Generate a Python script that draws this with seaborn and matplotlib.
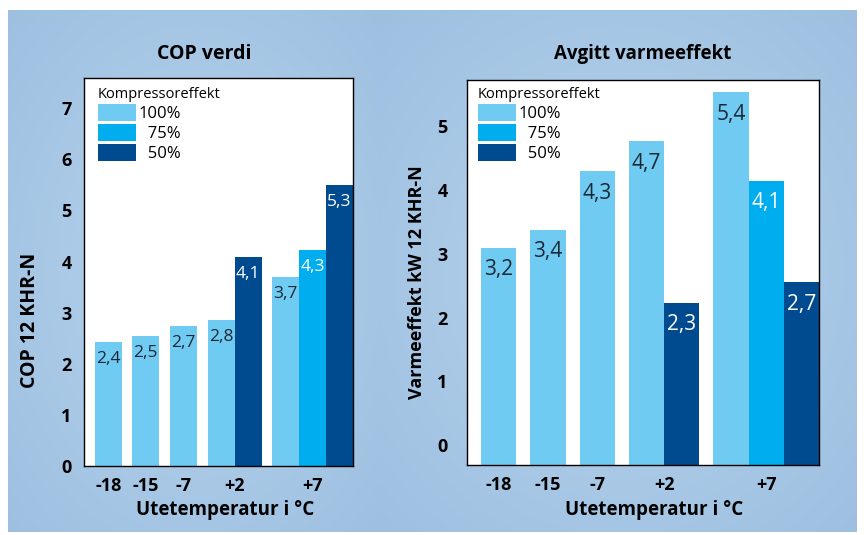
import numpy as np
import pandas as pd
import matplotlib
matplotlib.use("Agg")
import matplotlib.pyplot as plt
from matplotlib.patches import Patch
import seaborn as sns

# ---------------- data ----------------
temps = ['-18', '-15', '-7', '+2', '+7']
bar_temps = ['-18', '-15', '-7', '+2', '+2', '+7', '+7', '+7']
bar_series = ['100%', '100%', '100%', '100%', '50%', '100%', '75%', '50%']

cop_values = [2.43, 2.55, 2.73, 2.86, 4.08, 3.69, 4.22, 5.49]
cop_labels = ['2,4', '2,5', '2,7', '2,8', '4,1', '3,7', '4,3', '5,3']

heat_values = [3.09, 3.37, 4.29, 4.76, 2.23, 5.53, 4.14, 2.55]
heat_labels = ['3,2', '3,4', '4,3', '4,7', '2,3', '5,4', '4,1', '2,7']

series_order = ['100%', '75%', '50%']
legend_text = ['100%', '  75%', '  50%']
palette = {'100%': '#70cbf2', '75%': '#00adee', '50%': '#004a8f'}
text_color = {'100%': '#1c2733', '75%': 'white', '50%': 'white'}

sns.set_style('white')
plt.rcParams['font.family'] = ['Open Sans', 'DejaVu Sans']
plt.rcParams['text.color'] = 'black'

W, H = 864, 535
fig = plt.figure(figsize=(W / 100, H / 100), dpi=100)


def px_rect(x0, y0, x1, y1):
    # pixel box (top-left origin) -> figure fraction rect
    return [x0 / W, (H - y1) / H, (x1 - x0) / W, (y1 - y0) / H]


# ---------------- background panels ----------------
def panel(x0, x1):
    bg = fig.add_axes(px_rect(x0, 10, x1, 532), zorder=-10)
    yy, xx = np.mgrid[-1:1:200j, -1:1:200j]
    r = np.clip(np.sqrt(xx ** 2 + yy ** 2) / np.sqrt(2), 0, 1)
    c_in = np.array([0.71, 0.83, 0.93])
    c_out = np.array([0.62, 0.75, 0.88])
    img = c_in[None, None, :] * (1 - r[..., None]) + c_out[None, None, :] * r[..., None]
    bg.imshow(img, aspect='auto', extent=[0, 1, 0, 1])
    bg.axis('off')


panel(8, 380)
panel(380, 857)


def positions(bar_temps, gap):
    pos, x, prev = [], 0.0, None
    for t in bar_temps:
        if t != prev:
            x += gap
        pos.append(x + 0.5)
        x += 1
        prev = t
    return pos, x


def draw(rect, values, labels, ymin, ymax, yticks, label_off, label_size, legend_xy, ypad):
    ax = fig.add_axes(rect)
    pos, xmax = positions(bar_temps, 0.4)
    df = pd.DataFrame({'pos': pos, 'value': values, 'series': bar_series})
    sns.barplot(data=df, x='pos', y='value', hue='series', hue_order=series_order,
                palette=palette, native_scale=True, dodge=False, width=1.0,
                errorbar=None, saturation=1, linewidth=0, legend=False, ax=ax)
    if ymin < 0:
        # bars in this chart start at the frame bottom
        for p in ax.patches:
            h = p.get_height()
            p.set_y(ymin)
            p.set_height(h - ymin)
    for x, v, lab, s in zip(pos, values, labels, bar_series):
        ax.annotate(lab, (x, v), xytext=(0, -label_off), textcoords='offset points',
                    ha='center', va='center', fontsize=label_size, color=text_color[s])

    centers = [np.mean([p for p, t in zip(pos, bar_temps) if t == c]) for c in temps]
    ax.set_xlim(0, xmax)
    ax.set_ylim(ymin, ymax)
    ax.set_xticks(centers, temps, fontweight='bold', fontsize=13)
    ax.set_yticks(yticks, [str(t) for t in yticks], fontweight='bold', fontsize=13)
    ax.tick_params(axis='x', length=0, pad=8, colors='black')
    ax.tick_params(axis='y', length=0, pad=ypad, colors='black')
    ax.set_xlabel('')
    ax.set_ylabel('')
    ax.set_facecolor('white')
    for sp in ax.spines.values():
        sp.set_visible(True)
        sp.set_color('black')
        sp.set_linewidth(1.0)

    handles = [Patch(facecolor=palette[s], edgecolor='none') for s in series_order]
    ax.legend(handles, legend_text, title='Kompressoreffekt', loc='upper left',
              bbox_to_anchor=legend_xy, frameon=False, fontsize=12,
              title_fontsize=10.5, handlelength=2.3, handleheight=1.2,
              labelspacing=0.12, handletextpad=0.15, borderpad=0,
              borderaxespad=0, alignment='left')
    return ax


ax1 = draw(px_rect(84, 78, 353, 466), cop_values, cop_labels, 0, 7.59,
           list(range(8)), 12.2, 12.5, (14 / 269, 1 - 9 / 388), 9)
ax2 = draw(px_rect(467, 80, 819, 465), heat_values, heat_labels, -0.31, 5.72,
           list(range(6)), 15.8, 15, (11 / 352, 1 - 7 / 385), 14)


# titles and axis labels
def ftext(x, y, s, **kw):
    fig.text(x / W, 1 - y / H, s, ha='center', va='center', fontweight='bold',
             color='black', **kw)


ftext(204, 54, 'COP verdi', fontsize=14)
ftext(643, 54, 'Avgitt varmeeffekt', fontsize=13.5)
ftext(225, 510, 'Utetemperatur i °C', fontsize=13.5)
ftext(654, 510, 'Utetemperatur i °C', fontsize=13.5)
ftext(30, 320, 'COP 12 KHR-N', fontsize=14, rotation=90)
ftext(417, 282, 'Varmeeffekt kW 12 KHR-N', fontsize=13, rotation=90)

fig.savefig('out.png', dpi=100, facecolor='white')
